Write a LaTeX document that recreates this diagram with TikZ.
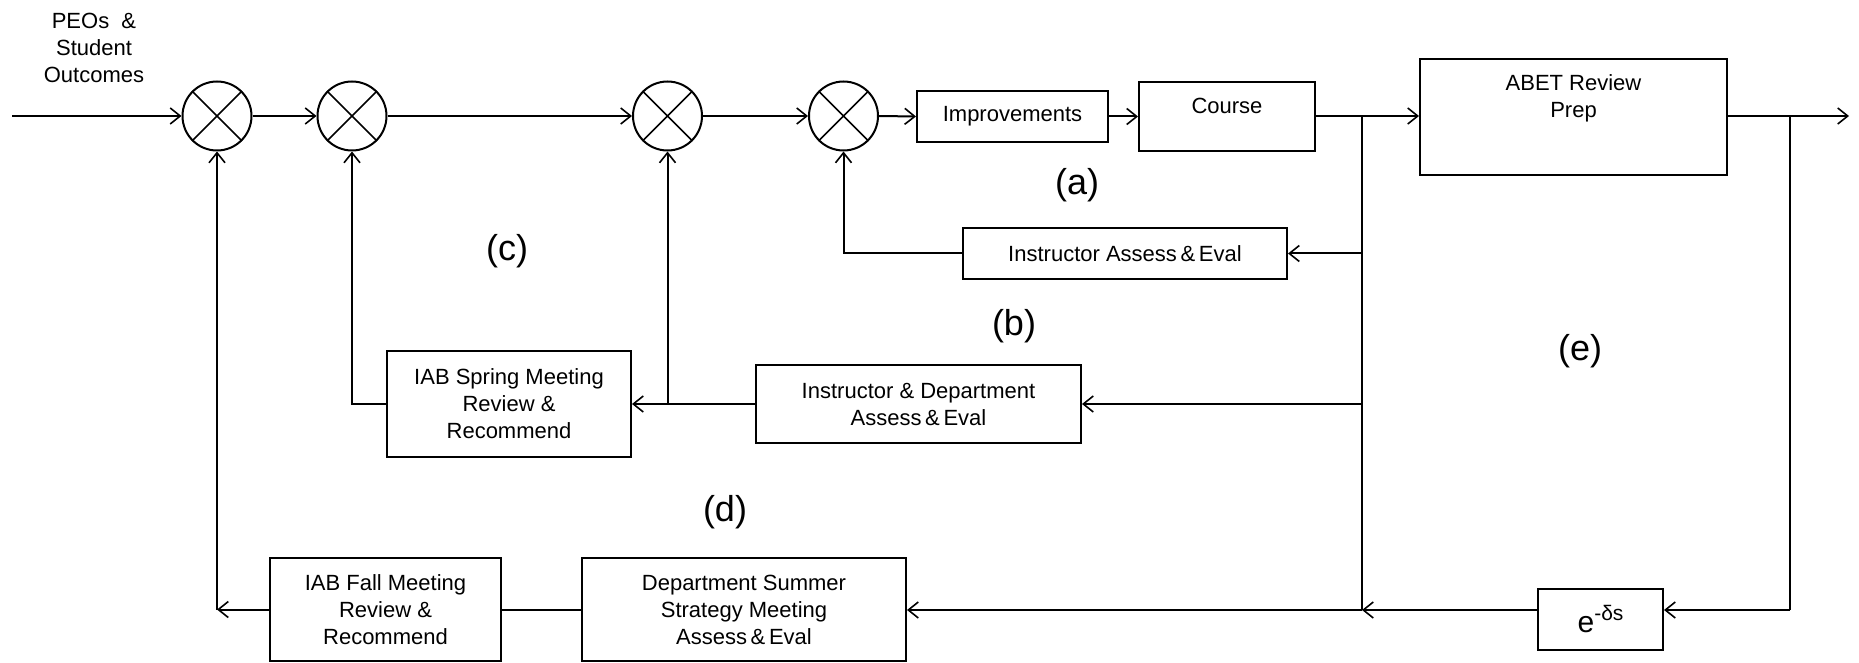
\documentclass[tikz,border=0pt]{standalone}
\usepackage{fontspec}
\setmainfont{Liberation Sans}
\usetikzlibrary{arrows.meta}
\begin{document}
\begin{tikzpicture}[x=0.5pt,y=-0.5pt,
  line width=1pt,
  >={Straight Barb[length=5pt,width=8pt,line width=0.8pt]},
  blk/.style={draw,rectangle,inner sep=0pt,align=center,font=\fontsize{11}{13.5}\selectfont},
  txt/.style={inner sep=0pt,align=center,font=\fontsize{11}{13.5}\selectfont},
  sumj/.style={draw,circle,inner sep=0pt,minimum size=34.5pt},
  lbl/.style={inner sep=0pt,font=\fontsize{18}{18}\selectfont}]
\useasboundingbox (0,0) rectangle (1859,663);

% summing junctions
\foreach \n/\xx in {j1/217,j2/352,j3/667.5,j4/843.5}{
  \node[sumj] (\n) at (\xx,116) {};
  \draw[line width=0.8pt] (\n.north west) -- (\n.south east) (\n.north east) -- (\n.south west);
}

% blocks
\node[blk,minimum width=95.5pt,minimum height=25.5pt] (impr) at (1012.5,116.5) {Improvements};
\node[blk,minimum width=88pt,minimum height=34.5pt] (course) at (1227,117) {};
\node[txt] (coursetxt) at (1227,106) {Course};
\node[blk,minimum width=153.5pt,minimum height=58pt] (abet) at (1573.5,117) {};
\node[txt] (abettxt) at (1573.5,98) {ABET Review\\Prep};
\node[blk,minimum width=162pt,minimum height=25.5pt] (instr) at (1125,253.5) {Instructor Assess\,\&\,Eval};
\node[blk,minimum width=162.5pt,minimum height=39pt] (idept) at (918.5,404) {Instructor \& Department\\Assess\,\&\,Eval};
\node[blk,minimum width=122pt,minimum height=53pt] (spring) at (509,404) {IAB Spring Meeting\\Review \&\\Recommend};
\node[blk,minimum width=115.5pt,minimum height=51.5pt] (fall) at (385.5,609.5) {IAB Fall Meeting\\Review \&\\Recommend};
\node[blk,minimum width=162pt,minimum height=51.5pt] (summer) at (744,609.5) {Department Summer\\Strategy Meeting\\Assess\,\&\,Eval};
\node[blk,minimum width=62.5pt,minimum height=30.5pt] (ebox) at (1600.5,619) {\fontsize{15}{15}\selectfont e\raisebox{0.75ex}{\fontsize{10.5}{10.5}\selectfont -δs}};

% input text
\node[txt] (peos) at (94,48) {PEOs\ \ \&\\Student\\Outcomes};

% labels
\node[lbl] (la) at (1077,185) {(a)};
\node[lbl] (lb) at (1014,326) {(b)};
\node[lbl] (lc) at (507,251) {(c)};
\node[lbl] (ld) at (725,512) {(d)};
\node[lbl] (le) at (1580,351) {(e)};

% coordinates
\coordinate (in) at (12,116);
\coordinate (bc) at (1362,116);
\coordinate (rb) at (1790,116);
\coordinate (out) at (1849,116);
\coordinate (rbb) at (1790,610);
\coordinate (cbb) at (1362,610);

% forward path
\draw[->] (in) -- (j1.west);
\draw[->] (j1.east) -- (j2.west);
\draw[->] (j2.east) -- (j3.west);
\draw[->] (j3.east) -- (j4.west);
\draw[->] (j4.east) -- (impr.west);
\draw[->] (impr.east) -- (course.west|-impr.east);
\draw (course.east|-bc) -- (bc);
\draw[->] (bc) -- (abet.west|-bc);
\draw (abet.east|-rb) -- (rb);
\draw[->] (rb) -- (out);

% branch from course output
\draw (bc) -- (cbb);
\draw[->] (bc|-instr.east) -- (instr.east);
\draw[->] (bc|-idept.east) -- (idept.east);

% loop (a)
\draw[->] (instr.west) -| (j4.south);
% loop (b)
\draw[->] (idept.west) -- (spring.east);
\draw[->] (j3.south|-spring.east) -- (j3.south);
% loop (c)
\draw[->] (spring.west) -| (j2.south);

% loop (e)/(d)
\draw (rb) -- (rbb);
\draw[->] (rbb) -- (ebox.east|-rbb);
\draw[->] (ebox.west|-cbb) -- (cbb);
\draw[->] (cbb) -- (summer.east|-cbb);
\draw (summer.west|-fall.west) -- (fall.east);
\draw[->] (fall.west) -- (j1.south|-fall.west);
\draw[->] (j1.south|-fall.west) -- (j1.south);
\end{tikzpicture}
\end{document}
